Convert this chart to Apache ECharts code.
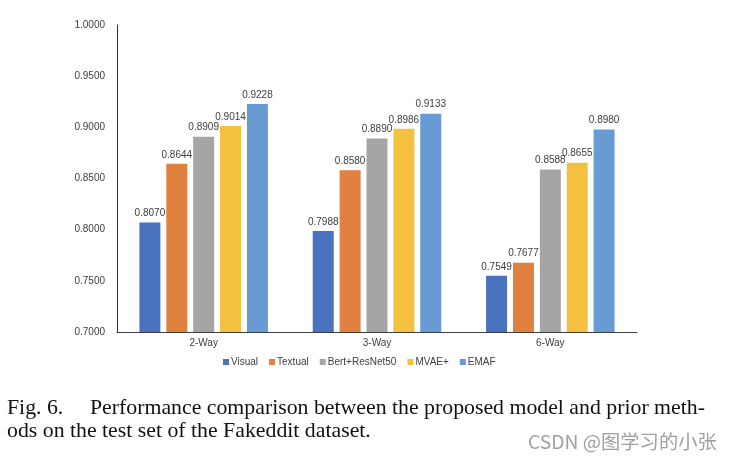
<!DOCTYPE html>
<html>
<head>
<meta charset="utf-8">
<script src="https://cdn.jsdelivr.net/npm/echarts@6/dist/echarts.min.js"></script>
<style>html,body{margin:0;padding:0;background:#fff;}#c{width:733px;height:464px;}</style>
</head>
<body>
<div id="c"></div>
<script>
const categories = ['2-Way', '3-Way', '6-Way'];
const seriesNames = ['Visual', 'Textual', 'Bert+ResNet50', 'MVAE+', 'EMAF'];
const visual = [0.8070, 0.7988, 0.7549];
const textual = [0.8644, 0.8580, 0.7677];
const bertResNet = [0.8909, 0.8890, 0.8588];
const mvae = [0.9014, 0.8986, 0.8655];
const emaf = [0.9228, 0.9133, 0.8980];
const yTicks = [0.70, 0.75, 0.80, 0.85, 0.90, 0.95, 1.00];
const colors = ['#4a72bf', '#e0813f', '#a5a5a5', '#f3c13f', '#689bd3'];
const captionLine1a = 'Fig. 6.';
const captionLine1b = 'Performance comparison between the proposed model and prior meth-';
const captionLine2 = 'ods on the test set of the Fakeddit dataset.';
const watermark = 'CSDN @图学习的小张';

const values = [visual, textual, bertResNet, mvae, emaf];
const chart = echarts.init(document.getElementById('c'));
const labelFont = '"Liberation Sans", Arial, sans-serif';
const capFont = '21.8px "Liberation Serif", "Times New Roman", serif';
chart.setOption({
  animation: false,
  backgroundColor: '#ffffff',
  grid: { left: 117, right: 96, top: 25, bottom: 132 },
  legend: {
    top: 352, left: 218,
    itemWidth: 6, itemHeight: 6, itemGap: 11,
    icon: 'rect',
    textStyle: { fontFamily: labelFont, fontSize: 10, color: '#404040', padding: [0, 0, 0, -3] },
    data: seriesNames
  },
  xAxis: {
    type: 'category', data: categories,
    axisLine: { lineStyle: { color: '#404040', width: 1 } },
    axisTick: { show: false },
    axisLabel: { fontFamily: labelFont, fontSize: 10, color: '#404040', margin: 6 }
  },
  yAxis: {
    type: 'value', min: yTicks[0], max: yTicks[yTicks.length - 1], interval: 0.05,
    axisLine: { show: true, lineStyle: { color: '#303030', width: 1 } },
    axisTick: { show: false },
    splitLine: { show: false },
    axisLabel: { fontFamily: labelFont, fontSize: 10, color: '#404040', margin: 12,
      formatter: v => v.toFixed(4) }
  },
  series: seriesNames.map((n, i) => ({
    name: n, type: 'bar', data: values[i],
    barWidth: 21, barGap: '28%',
    itemStyle: { color: colors[i] },
    label: { show: true, position: 'top', distance: 4, fontFamily: labelFont, fontSize: 10,
      color: '#404040', formatter: p => p.value.toFixed(4) }
  })),
  graphic: [
    { type: 'text', left: 7, top: 397, style: { text: captionLine1a, font: capFont, fill: '#111' } },
    { type: 'text', left: 90, top: 397, style: { text: captionLine1b, font: capFont, fill: '#111' } },
    { type: 'text', left: 7, top: 420, style: { text: captionLine2, font: capFont, fill: '#111' } },
    { type: 'text', left: 528, top: 432, style: { text: watermark, font: '19.3px "Noto Sans CJK SC", sans-serif', fill: '#a0a0a0' } }
  ]
});
</script>
</body>
</html>
